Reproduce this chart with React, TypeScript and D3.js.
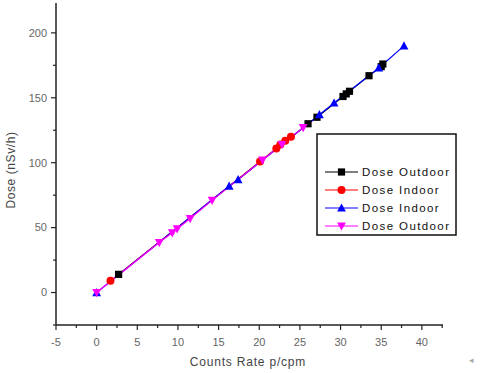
import React from 'react'
import * as d3 from 'd3'

// series
const outdoorACounts = [2.7, 26.0, 27.1, 30.3, 30.7, 31.1, 33.5, 35.0, 35.2]
const outdoorADose = [14, 130, 135, 151, 153, 155, 167, 174, 176]
const indoorACounts = [1.7, 20.1, 22.1, 22.6, 23.2, 23.9]
const indoorADose = [9, 101, 111, 114, 117, 120]
const indoorBCounts = [0, 16.3, 17.4, 27.4, 29.2, 34.7, 37.8]
const indoorBDose = [0, 82, 87, 137, 146, 173, 190]
const outdoorBCounts = [0, 7.7, 9.3, 9.9, 11.5, 14.2, 20.4, 22.8, 25.4]
const outdoorBDose = [0, 38.5, 46, 49, 57, 71, 102, 114, 127]

const seriesNames = ['Dose Outdoor', 'Dose Indoor', 'Dose Indoor', 'Dose Outdoor']
const xTicks = [-5, 0, 5, 10, 15, 20, 25, 30, 35, 40]
const yTicks = [0, 50, 100, 150, 200]

const W = 480
const H = 373
const font = '"Liberation Sans", Arial, sans-serif'

const marker = (shape: string, color: string, cx: number, cy: number, key: string) => {
  const s = 3.6
  if (shape === 'square')
    return <rect key={key} x={cx - s} y={cy - s} width={s * 2} height={s * 2} fill={color} />
  if (shape === 'circle') return <circle key={key} cx={cx} cy={cy} r={s + 0.4} fill={color} />
  if (shape === 'up')
    return <path key={key} d={`M${cx},${cy - s - 1}L${cx + s + 0.8},${cy + s}L${cx - s - 0.8},${cy + s}Z`} fill={color} />
  return <path key={key} d={`M${cx},${cy + s + 1}L${cx + s + 0.8},${cy - s}L${cx - s - 0.8},${cy - s}Z`} fill={color} />
}

export default function App() {
  const x = d3.scaleLinear().domain([-5, 42.6]).range([56, 443])
  const y = d3.scaleLinear().domain([-25, 223]).range([325, 3])

  const series = [
    { xs: outdoorACounts, ys: outdoorADose, color: '#000000', shape: 'square' },
    { xs: indoorACounts, ys: indoorADose, color: '#ff0000', shape: 'circle' },
    { xs: indoorBCounts, ys: indoorBDose, color: '#0000ff', shape: 'up' },
    { xs: outdoorBCounts, ys: outdoorBDose, color: '#ff00ff', shape: 'down' },
  ]

  const line = d3
    .line<[number, number]>()
    .x((d) => x(d[0]))
    .y((d) => y(d[1]))

  const xMinor = d3.range(-5, 42.6, 2.5)
  const yMinor = d3.range(-25, 223, 25)

  const legendX = 317
  const legendY = 134

  return (
    <svg width={W} height={H} style={{ position: 'absolute', left: 0, top: 0, background: '#fff' }}>
      {/* axes */}
      <line x1={56} x2={56} y1={3} y2={325} stroke="#222" strokeWidth={1.5} />
      <line x1={56} x2={443} y1={325} y2={325} stroke="#222" strokeWidth={1.5} />
      {yMinor.map((v) => (
        <line key={'ym' + v} x1={56} x2={yTicks.includes(v) ? 51 : 53} y1={y(v)} y2={y(v)} stroke="#222" strokeWidth={1.2} />
      ))}
      {xMinor.map((v) => (
        <line key={'xm' + v} x1={x(v)} x2={x(v)} y1={325} y2={v % 5 === 0 ? 330 : 328} stroke="#222" strokeWidth={1.2} />
      ))}
      {yTicks.map((v) => (
        <text key={'yl' + v} x={47} y={y(v)} dy="0.35em" textAnchor="end" fontFamily={font} fontSize={11} fill="#666">
          {v}
        </text>
      ))}
      {xTicks.map((v) => (
        <text key={'xl' + v} x={x(v)} y={346} textAnchor="middle" fontFamily={font} fontSize={11} fill="#666">
          {v}
        </text>
      ))}
      <text x={248} y={366} textAnchor="middle" fontFamily={font} fontSize={12} fill="#444" letterSpacing={0.8}>
        Counts Rate p/cpm
      </text>
      <text
        transform="translate(15,170) rotate(-90)"
        textAnchor="middle"
        fontFamily={font}
        fontSize={12}
        fill="#444"
        letterSpacing={0.6}
      >
        Dose (nSv/h)
      </text>

      {/* series lines */}
      {series.map((s, i) => (
        <path
          key={'l' + i}
          d={line(s.xs.map((v, j) => [v, s.ys[j]] as [number, number])) || ''}
          fill="none"
          stroke={s.color}
          strokeWidth={1.2}
        />
      ))}
      {series.map((s, i) => (
        <g key={'m' + i}>{s.xs.map((v, j) => marker(s.shape, s.color, x(v), y(s.ys[j]), i + '-' + j))}</g>
      ))}

      {/* legend */}
      <rect x={legendX} y={legendY} width={139} height={101} fill="#fff" stroke="#111" strokeWidth={1.5} />
      {series.map((s, i) => {
        const ly = 172 + i * 18
        return (
          <g key={'lg' + i}>
            <line x1={325} x2={358} y1={ly} y2={ly} stroke={s.color} strokeWidth={1.2} />
            {marker(s.shape, s.color, 341.5, ly, 'lm' + i)}
            <text x={362} y={ly} dy="0.36em" fontFamily={font} fontSize={11.5} fill="#111" letterSpacing={1.4}>
              {seriesNames[i]}
            </text>
          </g>
        )
      })}

      <text x={471} y={363} textAnchor="middle" fontFamily={font} fontSize={9} fill="#aaa">
        ◂
      </text>
    </svg>
  )
}
